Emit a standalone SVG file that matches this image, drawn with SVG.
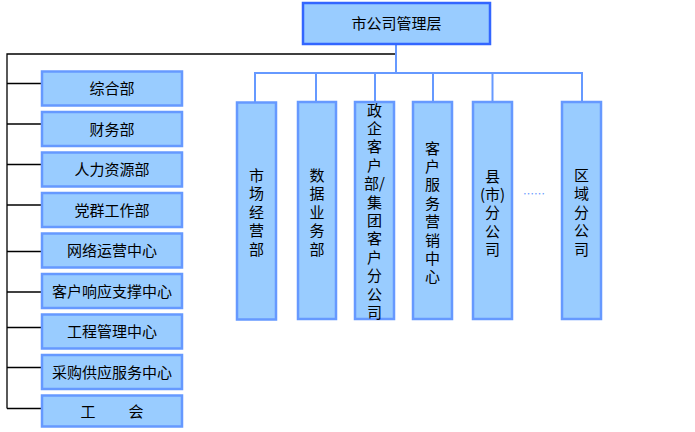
<svg xmlns="http://www.w3.org/2000/svg" width="695" height="432" viewBox="0 0 695 432">
<style>
.box{fill:#99ccff;stroke:#6699ff;stroke-width:2.5}
.top{fill:#99ccff;stroke:#3366ff;stroke-width:2.5}
.t{font-family:"Noto Sans CJK SC","Noto Sans CJK TC",sans-serif;font-size:15px;fill:#000;text-anchor:middle}
.blk{stroke:#000;stroke-width:1.3;fill:none}
.bl{stroke:#6699ff;stroke-width:2;fill:none}
</style>
<rect width="695" height="432" fill="#fff"/>
<g id="connectors">
<polyline class="blk" points="396,54 7,54 7,408.5"/>
<line class="blk" x1="7" y1="83.5" x2="42" y2="83.5"/>
<line class="blk" x1="7" y1="124" x2="42" y2="124"/>
<line class="blk" x1="7" y1="164.5" x2="42" y2="164.5"/>
<line class="blk" x1="7" y1="205" x2="42" y2="205"/>
<line class="blk" x1="7" y1="251.5" x2="42" y2="251.5"/>
<line class="blk" x1="7" y1="292" x2="42" y2="292"/>
<line class="blk" x1="7" y1="327.5" x2="42" y2="327.5"/>
<line class="blk" x1="7" y1="367.5" x2="42" y2="367.5"/>
<line class="blk" x1="7" y1="408.5" x2="42" y2="408.5"/>
<line class="bl" x1="396" y1="44" x2="396" y2="73" stroke-width="3"/>
<polyline class="bl" points="255,102 255,73 582,73 582,102"/>
<line class="bl" x1="316" y1="73" x2="316" y2="102"/>
<line class="bl" x1="375" y1="73" x2="375" y2="102"/>
<line class="bl" x1="433" y1="73" x2="433" y2="102"/>
<line class="bl" x1="492.5" y1="73" x2="492.5" y2="102"/>
</g>
<g id="top"><rect class="top" x="303" y="3" width="187" height="41"/><text class="t" x="396.5" y="28.5">市公司管理层</text></g>
<g id="n1"><rect class="box" x="42" y="71.5" width="140" height="34"/><text class="t" x="112" y="94">综合部</text></g>
<g id="n2"><rect class="box" x="42" y="112" width="140" height="34"/><text class="t" x="112" y="134.5">财务部</text></g>
<g id="n3"><rect class="box" x="42" y="152.5" width="140" height="34"/><text class="t" x="112" y="175">人力资源部</text></g>
<g id="n4"><rect class="box" x="42" y="193" width="140" height="34"/><text class="t" x="112" y="215.5">党群工作部</text></g>
<g id="n5"><rect class="box" x="42" y="233.5" width="140" height="34"/><text class="t" x="112" y="256">网络运营中心</text></g>
<g id="n6"><rect class="box" x="42" y="274" width="140" height="34"/><text class="t" x="112" y="296.5">客户响应支撑中心</text></g>
<g id="n7"><rect class="box" x="42" y="314.5" width="140" height="34"/><text class="t" x="112" y="337">工程管理中心</text></g>
<g id="n8"><rect class="box" x="42" y="355" width="140" height="34"/><text class="t" x="112" y="377.5">采购供应服务中心</text></g>
<g id="n9"><rect class="box" x="42" y="395.5" width="140" height="31"/><text class="t" y="416.5"><tspan x="88">工</tspan><tspan x="136">会</tspan></text></g>
<g id="v1"><rect class="box" x="237" y="102.5" width="39" height="217"/><text class="t" x="256.5" y="180.5"><tspan x="256.5" dy="0">市</tspan><tspan x="256.5" dy="18.5">场</tspan><tspan x="256.5" dy="18.5">经</tspan><tspan x="256.5" dy="18.5">营</tspan><tspan x="256.5" dy="18.5">部</tspan></text></g>
<g id="v2"><rect class="box" x="298" y="102" width="38" height="217"/><text class="t" x="317" y="180.5"><tspan x="317" dy="0">数</tspan><tspan x="317" dy="18.5">据</tspan><tspan x="317" dy="18.5">业</tspan><tspan x="317" dy="18.5">务</tspan><tspan x="317" dy="18.5">部</tspan></text></g>
<g id="v3"><rect class="box" x="355" y="102" width="39" height="217"/><text class="t" x="374.5" y="115.5"><tspan x="374.5" dy="0">政</tspan><tspan x="374.5" dy="18.4">企</tspan><tspan x="374.5" dy="18.4">客</tspan><tspan x="374.5" dy="18.4">户</tspan><tspan x="374.5" dy="18.4">部/</tspan><tspan x="374.5" dy="18.4">集</tspan><tspan x="374.5" dy="18.4">团</tspan><tspan x="374.5" dy="18.4">客</tspan><tspan x="374.5" dy="18.4">户</tspan><tspan x="374.5" dy="18.4">分</tspan><tspan x="374.5" dy="18.4">公</tspan><tspan x="374.5" dy="18.4">司</tspan></text></g>
<g id="v4"><rect class="box" x="413" y="102" width="39" height="217"/><text class="t" x="432.5" y="153.5"><tspan x="432.5" dy="0">客</tspan><tspan x="432.5" dy="18.4">户</tspan><tspan x="432.5" dy="18.4">服</tspan><tspan x="432.5" dy="18.4">务</tspan><tspan x="432.5" dy="18.4">营</tspan><tspan x="432.5" dy="18.4">销</tspan><tspan x="432.5" dy="18.4">中</tspan><tspan x="432.5" dy="18.4">心</tspan></text></g>
<g id="v5"><rect class="box" x="473" y="102" width="39" height="217"/><text class="t" x="492.5" y="181.5"><tspan x="492.5" dy="0">县</tspan><tspan x="492.5" dy="18.4">(市)</tspan><tspan x="492.5" dy="18.4">分</tspan><tspan x="492.5" dy="18.4">公</tspan><tspan x="492.5" dy="18.4">司</tspan></text></g>
<text class="t" x="534" y="198" style="font-size:11px;fill:#6699ff">……</text>
<g id="v6"><rect class="box" x="562" y="102" width="39" height="217"/><text class="t" x="581.5" y="180.5"><tspan x="581.5" dy="0">区</tspan><tspan x="581.5" dy="18.5">域</tspan><tspan x="581.5" dy="18.5">分</tspan><tspan x="581.5" dy="18.5">公</tspan><tspan x="581.5" dy="18.5">司</tspan></text></g>
</svg>
